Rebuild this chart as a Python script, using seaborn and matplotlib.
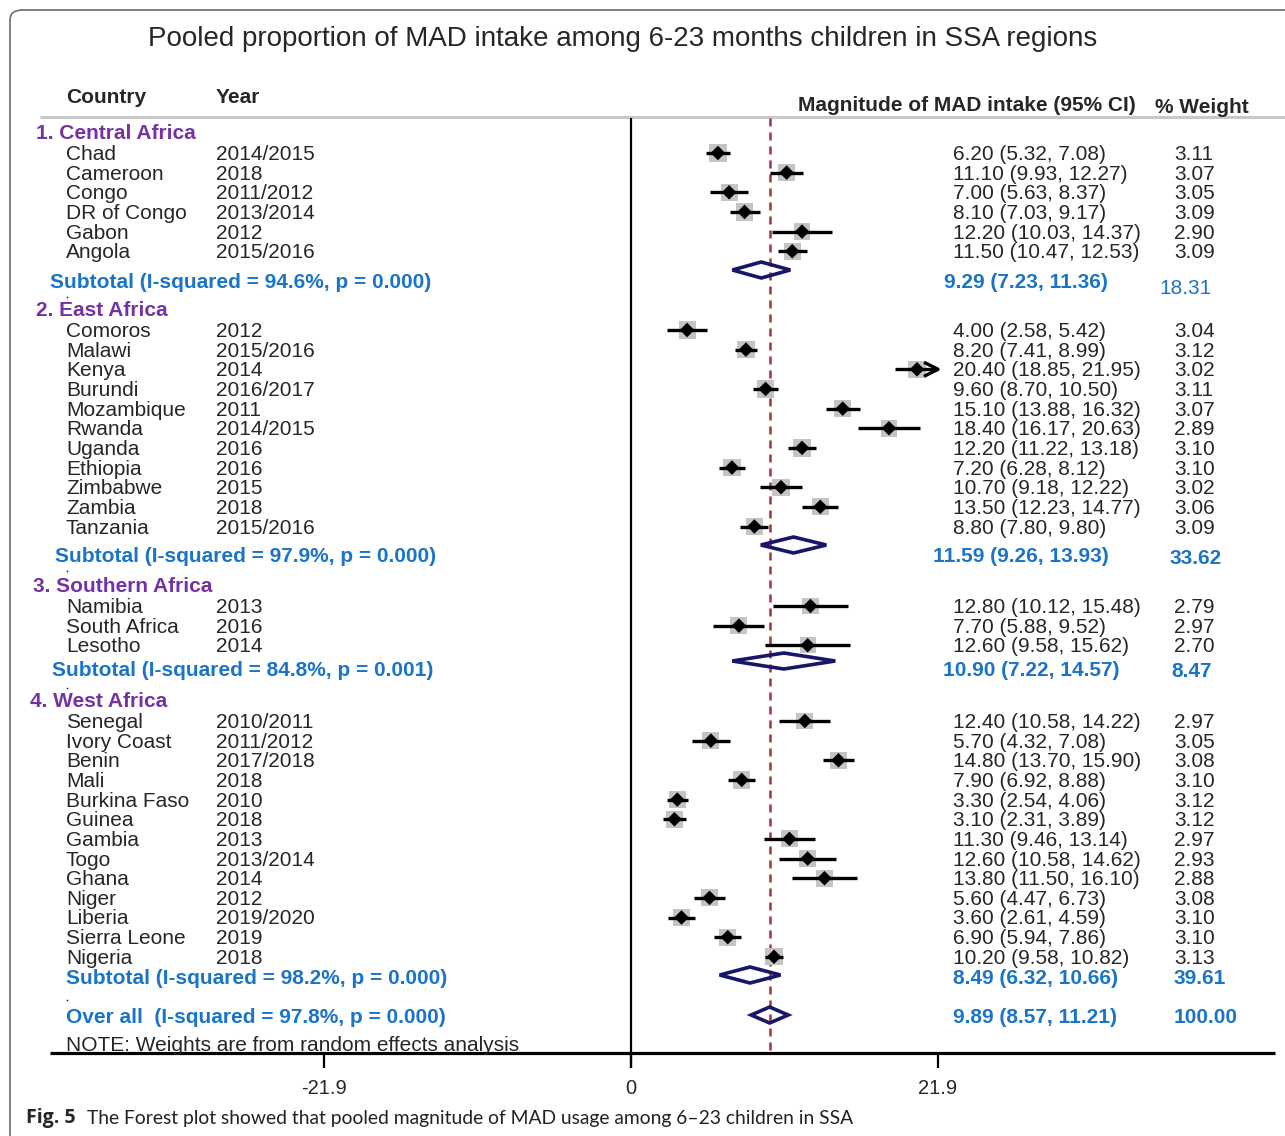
import seaborn as sns
import matplotlib.pyplot as plt
import numpy as np
import pandas as pd
from matplotlib.patches import Polygon, FancyBboxPatch

# ---- data ----
regions = ["1. Central Africa", "2. East Africa", "3. Southern Africa", "4. West Africa"]

central_country = ["Chad", "Cameroon", "Congo", "DR of Congo", "Gabon", "Angola"]
central_year = ["2014/2015", "2018", "2011/2012", "2013/2014", "2012", "2015/2016"]
central_est = [6.20, 11.10, 7.00, 8.10, 12.20, 11.50]
central_lo = [5.32, 9.93, 5.63, 7.03, 10.03, 10.47]
central_hi = [7.08, 12.27, 8.37, 9.17, 14.37, 12.53]
central_w = [3.11, 3.07, 3.05, 3.09, 2.90, 3.09]

east_country = ["Comoros", "Malawi", "Kenya", "Burundi", "Mozambique", "Rwanda",
                "Uganda", "Ethiopia", "Zimbabwe", "Zambia", "Tanzania"]
east_year = ["2012", "2015/2016", "2014", "2016/2017", "2011", "2014/2015",
             "2016", "2016", "2015", "2018", "2015/2016"]
east_est = [4.00, 8.20, 20.40, 9.60, 15.10, 18.40, 12.20, 7.20, 10.70, 13.50, 8.80]
east_lo = [2.58, 7.41, 18.85, 8.70, 13.88, 16.17, 11.22, 6.28, 9.18, 12.23, 7.80]
east_hi = [5.42, 8.99, 21.95, 10.50, 16.32, 20.63, 13.18, 8.12, 12.22, 14.77, 9.80]
east_w = [3.04, 3.12, 3.02, 3.11, 3.07, 2.89, 3.10, 3.10, 3.02, 3.06, 3.09]

south_country = ["Namibia", "South Africa", "Lesotho"]
south_year = ["2013", "2016", "2014"]
south_est = [12.80, 7.70, 12.60]
south_lo = [10.12, 5.88, 9.58]
south_hi = [15.48, 9.52, 15.62]
south_w = [2.79, 2.97, 2.70]

west_country = ["Senegal", "Ivory Coast", "Benin", "Mali", "Burkina Faso", "Guinea",
                "Gambia", "Togo", "Ghana", "Niger", "Liberia", "Sierra Leone", "Nigeria"]
west_year = ["2010/2011", "2011/2012", "2017/2018", "2018", "2010", "2018",
             "2013", "2013/2014", "2014", "2012", "2019/2020", "2019", "2018"]
west_est = [12.40, 5.70, 14.80, 7.90, 3.30, 3.10, 11.30, 12.60, 13.80, 5.60, 3.60, 6.90, 10.20]
west_lo = [10.58, 4.32, 13.70, 6.92, 2.54, 2.31, 9.46, 10.58, 11.50, 4.47, 2.61, 5.94, 9.58]
west_hi = [14.22, 7.08, 15.90, 8.88, 4.06, 3.89, 13.14, 14.62, 16.10, 6.73, 4.59, 7.86, 10.82]
west_w = [2.97, 3.05, 3.08, 3.10, 3.12, 3.12, 2.97, 2.93, 2.88, 3.08, 3.10, 3.10, 3.13]

sub_i2 = ["94.6%", "97.9%", "84.8%", "98.2%"]
sub_p = ["0.000", "0.000", "0.001", "0.000"]
sub_est = [9.29, 11.59, 10.90, 8.49]
sub_lo = [7.23, 9.26, 7.22, 6.32]
sub_hi = [11.36, 13.93, 14.57, 10.66]
sub_w = [18.31, 33.62, 8.47, 39.61]

overall_i2, overall_p = "97.8%", "0.000"
overall_est, overall_lo, overall_hi, overall_w = 9.89, 8.57, 11.21, 100.00

xticks = [-21.9, 0, 21.9]
xticklabels = ["-21.9", "0", "21.9"]
clip_hi = 21.9

# ---- layout (pixels) ----
W, H = 1285, 1136
X0, SC = 631, 14.02          # pixel of x=0, pixels per unit
STEP = 19.65
TY = 1.5                     # text baseline nudge
head_y = [132, 309, 585, 700]
head_x = [36, 36, 33, 30]
sub_y = [281, 555, 669, 977]
sub_dy = [270, 545, 661, 975]
sub_x = [50, 55, 52, 66]
sub_est_x = [944, 933, 943, 953]
sub_w_x = [1159, 1169, 1171, 1174]
sub_w_y = [287, 557, 670, 977]
dot_y = [297, 571, 688, 1000]

PURPLE = "#7432a4"
BLUE = "#1a74c8"
NAVY = "#16166b"


def px(p):
    return (p - X0) / SC


groups = [
    (central_country, central_year, central_est, central_lo, central_hi, central_w),
    (east_country, east_year, east_est, east_lo, east_hi, east_w),
    (south_country, south_year, south_est, south_lo, south_hi, south_w),
    (west_country, west_year, west_est, west_lo, west_hi, west_w),
]
rows = []
for g, (c, yr, e, lo, hi, w) in enumerate(groups):
    for i in range(len(c)):
        rows.append(dict(region=regions[g], country=c[i], year=yr[i], est=e[i],
                         lo=lo[i], hi=hi[i], w=w[i], y=head_y[g] + 21 + i * STEP))
df = pd.DataFrame(rows)

sns.set_theme(style="white")
plt.rcParams['font.family'] = ['Liberation Sans', 'DejaVu Sans']

fig = plt.figure(figsize=(W / 100, H / 100), dpi=100)
ax = fig.add_axes([0, 0, 1, 1])
ax.set_xlim(px(0), px(W))
ax.set_ylim(H, 0)
ax.axis('off')


def txt(xp, y, s, **kw):
    kw.setdefault('fontsize', 15)
    kw.setdefault('va', 'center')
    ax.text(px(xp), y + TY, s, **kw)


# frame
ax.add_patch(FancyBboxPatch((px(10), 10), (W + 40) / SC, H + 40,
                            boxstyle="round,pad=0,rounding_size=0.9",
                            mutation_aspect=11, fill=False, ec="#777777", lw=1.3))

# title and headers
txt(623, 37, "Pooled proportion of MAD intake among 6-23 months children in SSA regions",
    ha='center', fontsize=20)
txt(66, 96, "Country", fontweight='bold')
txt(216, 96, "Year", fontweight='bold')
txt(798, 104, "Magnitude of MAD intake (95% CI)", fontweight='bold')
txt(1155, 106, "% Weight", fontweight='bold')
ax.hlines(117, px(40), px(W), color="#c8c8c8", lw=2.2)

# axes lines
ax.vlines(0, 118, 1068, color='black', lw=1.6)
ax.hlines(1053, px(50), px(1275), color='black', lw=2.3)
for t, lab in zip(xticks, xticklabels):
    ax.vlines(t, 1053, 1068, color='black', lw=1.6)
    ax.text(t, 1089, lab, ha='center', va='center', fontsize=14.5)
ax.vlines(overall_est, 118, 1053, color="#a3343e", lw=1.8, linestyles=(0, (3.2, 2.4)))

# study rows
ax.hlines(df.y, df.lo, df.hi.clip(upper=clip_hi), color='black', lw=2.4, zorder=3)
sns.scatterplot(data=df, x='est', y='y', size='w', sizes=(50 * df.w.min(), 50 * df.w.max()),
                marker='s', color="#c4c4c4", edgecolor='none', legend=False, ax=ax, zorder=2)
sns.scatterplot(data=df, x='est', y='y', marker='D', color='black', s=55,
                edgecolor='none', legend=False, ax=ax, zorder=4)
# open arrow head where the CI runs past the axis limit
for _, r in df[df.hi > clip_hi].iterrows():
    ax.plot([clip_hi - 1.0, clip_hi, clip_hi - 1.0], [r.y - 7, r.y, r.y + 7],
            color='black', lw=2.4, solid_capstyle='butt', zorder=4)
for _, r in df.iterrows():
    txt(66, r.y, r.country)
    txt(216, r.y, r.year)
    txt(953, r.y, f"{r.est:.2f} ({r.lo:.2f}, {r.hi:.2f})")
    txt(1174, r.y, f"{r.w:.2f}")


def pooled(est, lo, hi, y):
    ax.add_patch(Polygon([(lo, y), (est, y - 8), (hi, y), (est, y + 8)], closed=True,
                         fill=False, ec=NAVY, lw=2.6, zorder=5))


# group headers and subtotals
for g in range(4):
    txt(head_x[g], head_y[g], regions[g], color=PURPLE, fontweight='bold')
    txt(sub_x[g], sub_y[g], f"Subtotal (I-squared = {sub_i2[g]}, p = {sub_p[g]})",
        color=BLUE, fontweight='bold')
    txt(sub_est_x[g], sub_y[g], f"{sub_est[g]:.2f} ({sub_lo[g]:.2f}, {sub_hi[g]:.2f})",
        color=BLUE, fontweight='bold')
    txt(sub_w_x[g], sub_w_y[g], f"{sub_w[g]:.2f}", color=BLUE,
        fontweight='normal' if g == 0 else 'bold')
    pooled(sub_est[g], sub_lo[g], sub_hi[g], sub_dy[g])
    ax.plot(px(67), dot_y[g], 'o', color='#333333', ms=1.3, mew=0)

txt(66, 1016, f"Over all  (I-squared = {overall_i2}, p = {overall_p})",
    color=BLUE, fontweight='bold')
txt(953, 1016, f"{overall_est:.2f} ({overall_lo:.2f}, {overall_hi:.2f})",
    color=BLUE, fontweight='bold')
txt(1174, 1016, f"{overall_w:.2f}", color=BLUE, fontweight='bold')
pooled(overall_est, overall_lo, overall_hi, 1015)

txt(66, 1044, "NOTE: Weights are from random effects analysis")

# caption
txt(26, 1117, "Fig. 5", fontsize=14, fontweight='bold', family=['Open Sans', 'DejaVu Sans'])
txt(87, 1117, "The Forest plot showed that pooled magnitude of MAD usage among 6\u201323 children in SSA",
    fontsize=13.9, color="#222222", family=['Lato', 'DejaVu Sans'])

fig.savefig("out.png", dpi=100)
